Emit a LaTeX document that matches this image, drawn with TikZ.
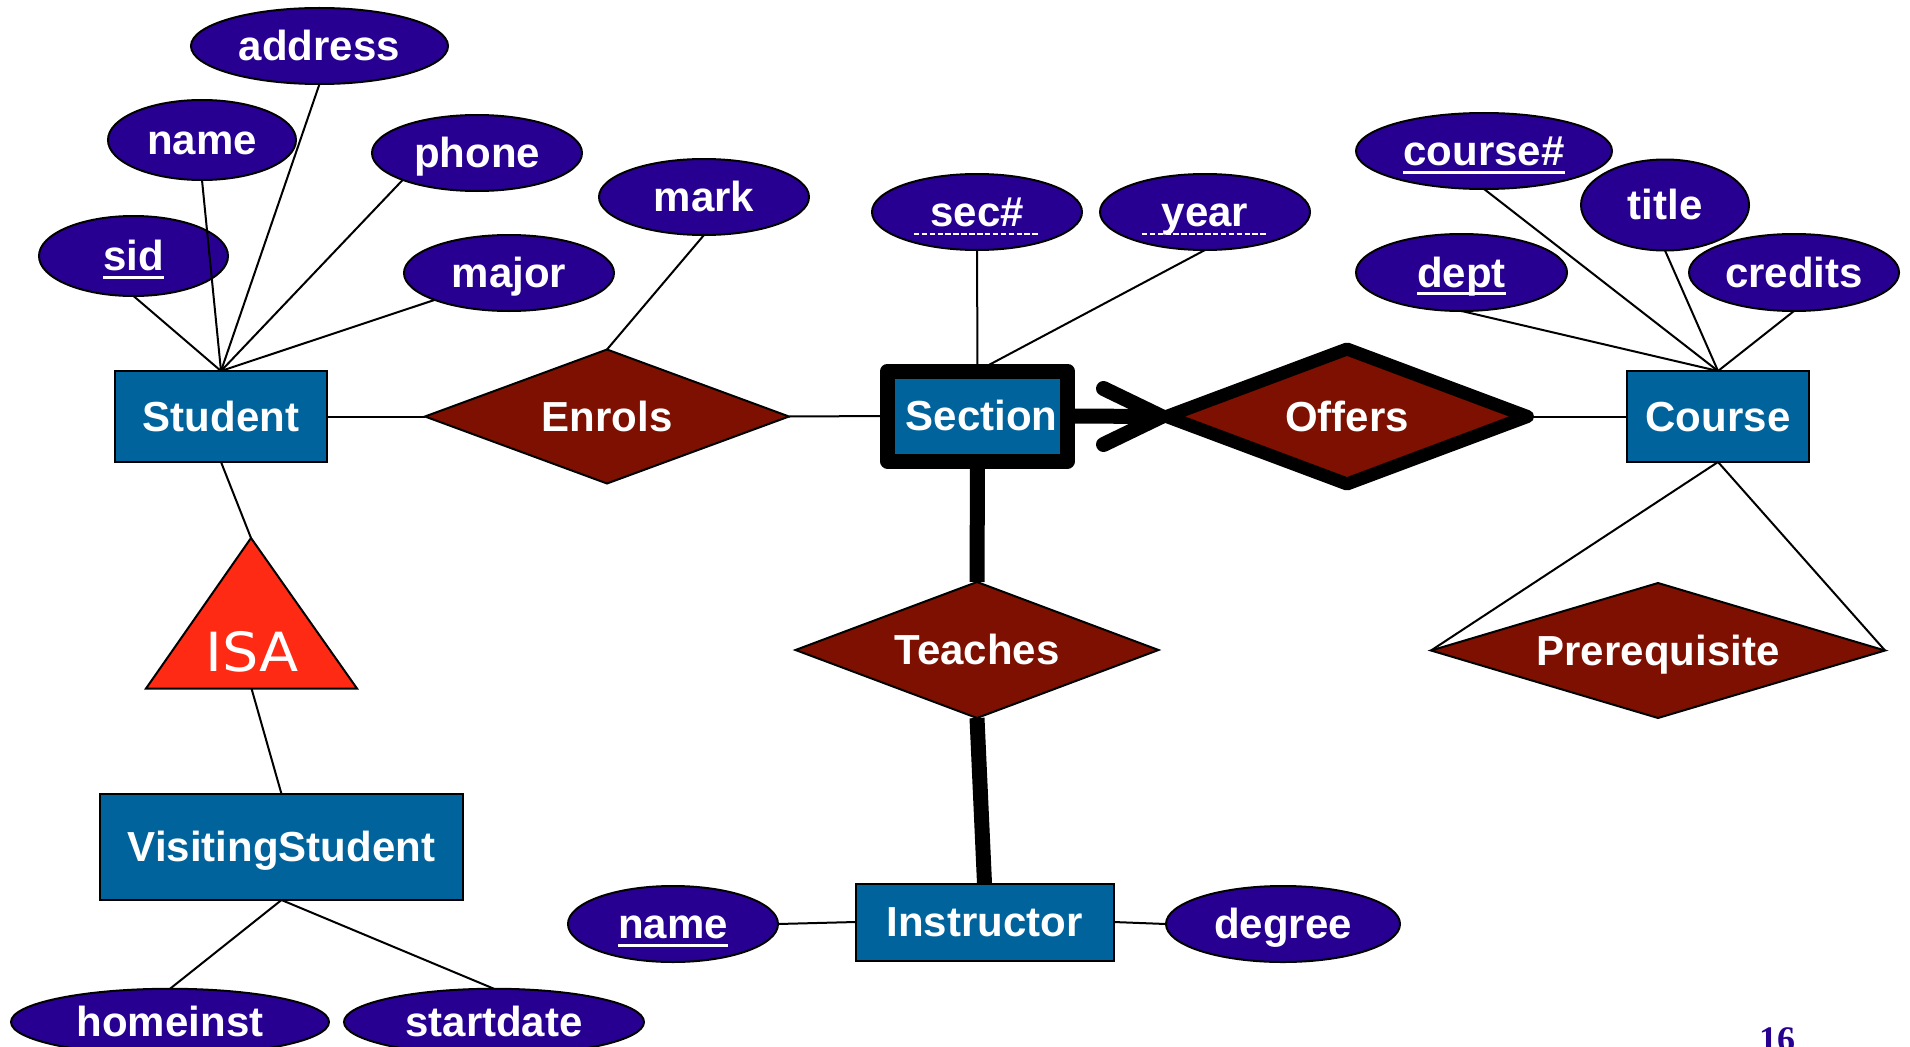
\documentclass[tikz,border=0pt]{standalone}
\usepackage{fontspec}
\setmainfont{Liberation Sans}
\newfontfamily\isafont{DejaVu Sans}
\newfontfamily\pagefont{Liberation Serif}
\usetikzlibrary{shapes.geometric,calc}

\definecolor{attrblue}{RGB}{40,0,145}
\definecolor{entblue}{RGB}{0,99,155}
\definecolor{relred}{RGB}{125,16,0}
\definecolor{isared}{RGB}{255,42,20}

% key attribute: solid underline; partial key: dashed, wider underline
\newsavebox\ulbox
\newcommand{\keyattr}[1]{\sbox\ulbox{#1}\rlap{\rule[-8pt]{\wd\ulbox}{2.6pt}}\usebox\ulbox}
\newcommand{\partkey}[1]{\sbox\ulbox{#1}%
  \makebox[\wd\ulbox]{\smash{\raisebox{-8pt}{\hbox to 134pt{\cleaders\hbox{\rule{5.5pt}{2pt}\kern2.4pt}\hfill}}}}%
  \kern-\wd\ulbox\usebox\ulbox}

\tikzset{
  lbl/.style={text=white, font=\bfseries\fontsize{42}{48}\selectfont,
    inner sep=0pt, outer sep=0pt, text height=38pt, text depth=9pt},
  attr/.style={lbl, ellipse, draw=black, line width=2pt, fill=attrblue},
  entity/.style={lbl, rectangle, draw=black, line width=2pt, fill=entblue},
  rel/.style={lbl, diamond, draw=black, line width=2pt, fill=relred},
  weakbox/.style={line width=15pt, line join=round},
  weakrel/.style={line width=13pt, line join=round},
  link/.style={line width=2pt},
  heavy/.style={line width=15pt},
}

\begin{document}
\begin{tikzpicture}[x=1pt, y=-1pt]
\useasboundingbox (0,0) rectangle (1910,1046);

% ---- entities ----
\node[entity, minimum width=212pt, minimum height=91pt] (Student) at (221,416.5) {Student};
\node[entity, weakbox, minimum width=180pt, minimum height=90pt] (Section) at (977.5,416) {\hspace*{8pt}Section};
\node[entity, minimum width=182pt, minimum height=91pt] (Course) at (1718,416.5) {Course};
\node[entity, minimum width=363pt, minimum height=106pt] (Visiting) at (281.5,847) {VisitingStudent};
\node[entity, minimum width=258pt, minimum height=77pt] (Instructor) at (984.5,922) {Instructor};

% ---- relationships ----
\node[rel, shape aspect=2.72, minimum width=364pt, minimum height=134pt] (Enrols) at (607,416.5) {Enrols};
\node[rel, weakrel, shape aspect=2.67, minimum width=361pt, minimum height=135pt] (Offers) at (1347,416.5) {Offers};
\node[rel, shape aspect=2.67, minimum width=363pt, minimum height=136pt] (Teaches) at (977,650) {Teaches};
\node[rel, shape aspect=3.36, minimum width=454pt, minimum height=135pt] (Prereq) at (1658,650.5) {Prerequisite};

% ---- attributes ----
\node[attr, minimum width=257pt, minimum height=76pt] (address) at (319.5,46) {address};
\node[attr, minimum width=188pt, minimum height=80pt] (sname) at (202,140) {name};
\node[attr, minimum width=210pt, minimum height=76pt] (phone) at (477,153) {phone};
\node[attr, minimum width=189pt, minimum height=80pt] (sid) at (133.5,256) {\keyattr{sid}};
\node[attr, minimum width=210pt, minimum height=76pt] (major) at (509,273) {major};
\node[attr, minimum width=210pt, minimum height=76pt] (mark) at (704,197) {mark};
\node[attr, minimum width=210pt, minimum height=76pt] (secno) at (977,212) {\partkey{sec\#}};
\node[attr, minimum width=210pt, minimum height=76pt] (year) at (1205,212) {\partkey{year}};
\node[attr, minimum width=256pt, minimum height=76pt] (courseno) at (1484,151) {\keyattr{course\#}};
\node[attr, minimum width=168pt, minimum height=91pt] (title) at (1665,205) {title};
\node[attr, minimum width=211pt, minimum height=77pt] (dept) at (1461.5,272.5) {\keyattr{dept}};
\node[attr, minimum width=210pt, minimum height=77pt] (credits) at (1794,272.5) {credits};
\node[attr, minimum width=210pt, minimum height=76pt] (iname) at (673,924) {\keyattr{name}};
\node[attr, minimum width=234pt, minimum height=76pt] (degree) at (1283,924) {degree};
\node[attr, minimum width=318pt, minimum height=64pt] (homeinst) at (170,1022) {homeinst};
\node[attr, minimum width=300pt, minimum height=64pt] (startdate) at (494,1022) {startdate};

% ---- ISA triangle ----
\coordinate (isaTop) at (251,538);
\coordinate (isaL) at (146,688.5);
\coordinate (isaR) at (357,688.5);
\coordinate (isaBase) at (251.5,688.5);
\draw[line width=2pt, fill=isared] (isaTop) -- (isaR) -- (isaL) -- cycle;
\node[anchor=base, text=white, inner sep=0pt, font=\isafont\fontsize{54}{60}\selectfont] (isa) at (252,671) {\scalebox{1.06}[1]{ISA}};

% ---- Student attributes ----
\draw[link] (sid.south) -- (Student.north);
\draw[link] (sname.south) -- (Student.north);
\draw[link] (address.south) -- (Student.north);
\draw[link] (phone.south west) -- (Student.north);
\draw[link] (major.south west) -- (Student.north);

% ---- Course attributes ----
\draw[link] (courseno.south) -- (Course.north);
\draw[link] (title.south) -- (Course.north);
\draw[link] (dept.south) -- (Course.north);
\draw[link] (credits.south) -- (Course.north);

% ---- Section attributes ----
\draw[link] (secno.south) -- (Section.north);
\draw[link] (year.south) -- (Section.north);

% ---- relationship links ----
\draw[link] (Student.east) -- (Enrols.west);
\draw[link] (Enrols.east) -- (Section.west);
\draw[link] (Enrols.north) -- (mark.south);
\draw[link] (Offers.east) -- (Course.west);
\draw[link] (Course.south) -- (Prereq.west);
\draw[link] (Course.south) -- (Prereq.east);
\draw[link] (iname.east) -- (Instructor.west);
\draw[link] (Instructor.east) -- (degree.west);

% total participation
\draw[heavy] (Section.south) -- (Teaches.north);
\draw[heavy] (Teaches.south) -- (Instructor.north);

% key constraint arrow into Offers
\coordinate (tip) at ($(Offers.west)+(-5,0)$);
\draw[heavy] (Section.east) -- (tip);
\draw[heavy, line cap=round, line join=round] ($(tip)+(-58,-28)$) -- (tip) -- ($(tip)+(-58,28)$);

% ---- ISA links ----
\draw[link] (Student.south) -- (isaTop);
\draw[link] (isaBase) -- (Visiting.north);
\draw[link] (Visiting.south) -- (homeinst.north);
\draw[link] (Visiting.south) -- (startdate.north);

% ---- page number ----
\node[anchor=base, inner sep=0pt, text=attrblue, font=\pagefont\bfseries\fontsize{36}{40}\selectfont] (pageno) at (1777,1051) {16};
\end{tikzpicture}
\end{document}
